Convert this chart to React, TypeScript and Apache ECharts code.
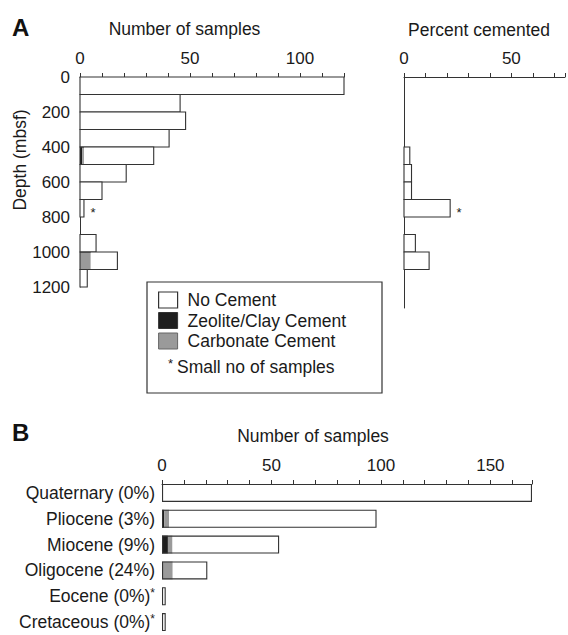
import React, { useEffect, useRef } from 'react';
import * as echarts from 'echarts';

// ---------- Panel A data (depth bins of 100 m) ----------
const depthBinTops = [0, 100, 200, 300, 400, 500, 600, 700, 800, 900, 1000, 1100];
const depthBinSize = 100;
const samplesA = [120, 45.5, 48, 40.5, 33.5, 21, 10, 1.8, 0, 7.3, 17, 3.3];
const zeoliteA = [0, 0, 0, 0, 1, 0, 0, 0, 0, 0, 0, 0];
const carbonateA = [0, 0, 0, 0, 0.8, 0, 0, 0, 0, 0, 4.9, 0];
const percentCementedA = [0, 0, 0, 0, 2.7, 3.5, 3.5, 21.5, 0, 5.3, 11.7, 0];
const smallSampleA = [false, false, false, false, false, false, false, true, false, false, false, false];

// ---------- Panel B data (by age) ----------
const agesB = ['Quaternary', 'Pliocene', 'Miocene', 'Oligocene', 'Eocene', 'Cretaceous'];
const percentB = [0, 3, 9, 24, 0, 0];
const samplesB = [169, 98, 53.5, 20.7, 1.7, 1.7];
const zeoliteB = [0, 1, 2.7, 0, 0, 0];
const carbonateB = [0, 2.2, 2.1, 4.9, 0, 0];
const smallSampleB = [false, false, false, false, true, true];

const FONT = '"Liberation Sans", Arial, Helvetica, sans-serif';
const INK = '#1a1a1a';
const LINE = '#333';
const ZEOLITE = '#1e1e1e';
const CARBONATE = '#9a9a9a';

const NAME_NO = 'No Cement';
const NAME_ZEO = 'Zeolite/Clay Cement';
const NAME_CARB = 'Carbonate Cement';

function rectRender(fill: string) {
  return (_p: any, api: any) => {
    const top = api.value(0);
    const bottom = api.value(1);
    const x0 = api.value(2);
    const x1 = api.value(3);
    if (!(x1 > x0)) return null;
    const a = api.coord([x0, top]);
    const b = api.coord([x1, bottom]);
    return {
      type: 'rect',
      shape: { x: a[0], y: a[1], width: b[0] - a[0], height: b[1] - a[1] },
      style: { fill, stroke: 'none' },
    };
  };
}

function outlineRender(_p: any, api: any) {
  const top = api.value(0);
  const bottom = api.value(1);
  const x0 = api.value(2);
  const x1 = api.value(3);
  if (!(x1 > 0)) return null;
  const a = api.coord([0, top]);
  const w0 = api.coord([x0, top]);
  const b = api.coord([x1, bottom]);
  return {
    type: 'group',
    children: [
      {
        type: 'rect',
        shape: { x: w0[0], y: a[1], width: Math.max(0, b[0] - w0[0]), height: b[1] - a[1] },
        style: { fill: '#fff', stroke: 'none' },
      },
      {
        type: 'rect',
        shape: { x: a[0], y: a[1], width: b[0] - a[0], height: b[1] - a[1] },
        style: { fill: 'none', stroke: LINE, lineWidth: 1.1 },
      },
    ],
  };
}

function asteriskRender(_p: any, api: any) {
  const p = api.coord([api.value(1), api.value(0)]);
  return {
    type: 'text',
    x: p[0] + 9,
    y: p[1] + 4,
    style: {
      text: '*',
      fill: INK,
      font: `13px ${FONT}`,
      align: 'center',
      verticalAlign: 'middle',
      textAlign: 'center',
      textVerticalAlign: 'middle',
    },
  };
}

function buildOption() {
  const cementA = depthBinTops.map((t, i) => [t, t + depthBinSize, 0, zeoliteA[i]]);
  const carbA = depthBinTops.map((t, i) => [t, t + depthBinSize, zeoliteA[i], zeoliteA[i] + carbonateA[i]]);
  const noA = depthBinTops.map((t, i) => [t, t + depthBinSize, zeoliteA[i] + carbonateA[i], samplesA[i]]);
  const pctA = depthBinTops.map((t, i) => [t, t + depthBinSize, 0, percentCementedA[i]]);
  const starA: number[][] = [];
  const starPct: number[][] = [];
  depthBinTops.forEach((t, i) => {
    if (smallSampleA[i]) {
      starA.push([t + depthBinSize / 2, samplesA[i]]);
      starPct.push([t + depthBinSize / 2, percentCementedA[i]]);
    }
  });

  const noCementB = samplesB.map((s, i) => s - zeoliteB[i] - carbonateB[i]);
  const labelsB = agesB.map((a, i) => `${a} (${percentB[i]}%)`);

  const axisLabelBase = { color: INK, fontFamily: FONT, fontSize: 17 };
  const axisLine = { show: true, lineStyle: { color: LINE, width: 1 } };
  const tick = { show: true, length: 4, lineStyle: { color: LINE, width: 1 } };
  const every50 = (v: number) => (v % 50 === 0 ? String(v) : '');

  return {
    animation: false,
    textStyle: { fontFamily: FONT },
    grid: [
      { left: 80, top: 77, width: 264, height: 210 },
      { left: 404, top: 77, width: 163.5, height: 231 },
      { left: 162, top: 480, width: 370, height: 160 },
    ],
    xAxis: [
      {
        gridIndex: 0, type: 'value', position: 'top', min: 0, max: 120, interval: 10,
        axisLine, axisTick: tick, splitLine: { show: false },
        axisLabel: { ...axisLabelBase, margin: 10, formatter: every50 },
      },
      {
        gridIndex: 1, type: 'value', position: 'top', min: 0, max: 75, interval: 10,
        axisLine, axisTick: tick, splitLine: { show: false },
        axisLabel: { ...axisLabelBase, margin: 10, formatter: every50 },
      },
      {
        gridIndex: 2, type: 'value', position: 'top', min: 0, max: 169, interval: 10, offset: -4,
        axisLine, axisTick: tick, splitLine: { show: false },
        axisLabel: { ...axisLabelBase, margin: 10, formatter: every50 },
      },
    ],
    yAxis: [
      {
        gridIndex: 0, type: 'value', inverse: true, min: 0, max: 1200, interval: 200,
        axisLine, axisTick: { show: false }, splitLine: { show: false },
        axisLabel: { ...axisLabelBase, margin: 10, formatter: (v: number) => String(v) },
      },
      {
        gridIndex: 1, type: 'value', inverse: true, min: 0, max: 1320,
        axisLine, axisTick: { show: false }, splitLine: { show: false },
        axisLabel: { show: false },
      },
      {
        gridIndex: 2, type: 'category', inverse: true, data: labelsB,
        axisLine: { show: false }, axisTick: { show: false }, splitLine: { show: false },
        axisLabel: {
          ...axisLabelBase,
          fontSize: 17.5,
          margin: 7,
          formatter: (v: string, i: number) => (smallSampleB[i] ? `${v}{s|*}` : v),
          rich: { s: { fontSize: 12, fontFamily: FONT, color: INK, verticalAlign: 'top', lineHeight: 18 } },
        },
      },
    ],
    legend: {
      left: 158,
      top: 291,
      orient: 'vertical',
      itemWidth: 19,
      itemHeight: 16,
      itemGap: 2.5,
      padding: 0,
      selectedMode: false,
      icon: 'rect',
      textStyle: { color: INK, fontFamily: FONT, fontSize: 17.5, lineHeight: 18, padding: [0, 0, 0, 5] },
      data: [
        { name: NAME_NO, itemStyle: { color: '#fff', borderColor: LINE, borderWidth: 1.2 } },
        { name: NAME_ZEO, itemStyle: { color: ZEOLITE, borderColor: LINE, borderWidth: 1 } },
        { name: NAME_CARB, itemStyle: { color: CARBONATE, borderColor: '#666', borderWidth: 1 } },
      ],
    },
    graphic: [
      { type: 'text', x: 12, y: 27, style: { text: 'A', fill: '#111', font: `bold 24px ${FONT}`, textVerticalAlign: 'middle', verticalAlign: 'middle' } },
      { type: 'text', x: 12, y: 432, style: { text: 'B', fill: '#111', font: `bold 24px ${FONT}`, textVerticalAlign: 'middle', verticalAlign: 'middle' } },
      { type: 'text', x: 184.5, y: 29, style: { text: 'Number of samples', fill: INK, font: `17.5px ${FONT}`, textAlign: 'center', align: 'center', textVerticalAlign: 'middle', verticalAlign: 'middle' } },
      { type: 'text', x: 479, y: 30, style: { text: 'Percent cemented', fill: INK, font: `17.5px ${FONT}`, textAlign: 'center', align: 'center', textVerticalAlign: 'middle', verticalAlign: 'middle' } },
      { type: 'text', x: 313, y: 436, style: { text: 'Number of samples', fill: INK, font: `17.5px ${FONT}`, textAlign: 'center', align: 'center', textVerticalAlign: 'middle', verticalAlign: 'middle' } },
      { type: 'text', x: 20, y: 160, rotation: Math.PI / 2, style: { text: 'Depth (mbsf)', fill: INK, font: `17.5px ${FONT}`, textAlign: 'center', align: 'center', textVerticalAlign: 'middle', verticalAlign: 'middle' } },
      { type: 'rect', z: -1, shape: { x: 147, y: 282, width: 235, height: 111 }, style: { fill: '#fff', stroke: LINE, lineWidth: 1.2 } },
      { type: 'text', x: 168, y: 363, style: { text: '*', fill: INK, font: `13px ${FONT}`, textVerticalAlign: 'middle', verticalAlign: 'middle' } },
      { type: 'text', x: 177, y: 367, style: { text: 'Small no of samples', fill: INK, font: `17.5px ${FONT}`, textVerticalAlign: 'middle', verticalAlign: 'middle' } },
    ],
    series: [
      // Panel A left: number of samples by depth
      { type: 'custom', name: NAME_ZEO, xAxisIndex: 0, yAxisIndex: 0, z: 2, renderItem: rectRender(ZEOLITE), data: cementA, itemStyle: { color: ZEOLITE } },
      { type: 'custom', name: NAME_CARB, xAxisIndex: 0, yAxisIndex: 0, z: 2, renderItem: rectRender(CARBONATE), data: carbA, itemStyle: { color: CARBONATE } },
      { type: 'custom', name: NAME_NO, xAxisIndex: 0, yAxisIndex: 0, z: 3, renderItem: outlineRender, data: noA, itemStyle: { color: '#fff' } },
      { type: 'custom', name: 'smallA', xAxisIndex: 0, yAxisIndex: 0, z: 4, renderItem: asteriskRender, data: starA },
      // Panel A right: percent cemented
      { type: 'custom', name: 'Percent cemented', xAxisIndex: 1, yAxisIndex: 1, z: 3, renderItem: outlineRender, data: pctA },
      { type: 'custom', name: 'smallPct', xAxisIndex: 1, yAxisIndex: 1, z: 4, renderItem: asteriskRender, data: starPct },
      // Panel B
      { type: 'bar', name: NAME_ZEO, xAxisIndex: 2, yAxisIndex: 2, stack: 'b', barWidth: 18, barGap: '-100%', data: zeoliteB, itemStyle: { color: ZEOLITE } },
      { type: 'bar', name: NAME_CARB, xAxisIndex: 2, yAxisIndex: 2, stack: 'b', barWidth: 18, barGap: '-100%', data: carbonateB, itemStyle: { color: CARBONATE } },
      { type: 'bar', name: NAME_NO, xAxisIndex: 2, yAxisIndex: 2, stack: 'b', barWidth: 18, barGap: '-100%', data: noCementB, itemStyle: { color: '#fff' } },
      { type: 'bar', name: 'outlineB', xAxisIndex: 2, yAxisIndex: 2, barWidth: 18, barGap: '-100%', data: samplesB, silent: true, itemStyle: { color: 'rgba(0,0,0,0)', borderColor: LINE, borderWidth: 1.1 } },
    ],
  };
}

export default function App() {
  const ref = useRef<HTMLDivElement>(null);
  useEffect(() => {
    if (!ref.current) return;
    const chart = echarts.init(ref.current, undefined, { renderer: 'svg' });
    chart.setOption(buildOption() as any);
    return () => chart.dispose();
  }, []);
  return (
    <div
      ref={ref}
      style={{ position: 'fixed', left: 0, top: 0, width: 568, height: 635, background: '#fff' }}
    />
  );
}
